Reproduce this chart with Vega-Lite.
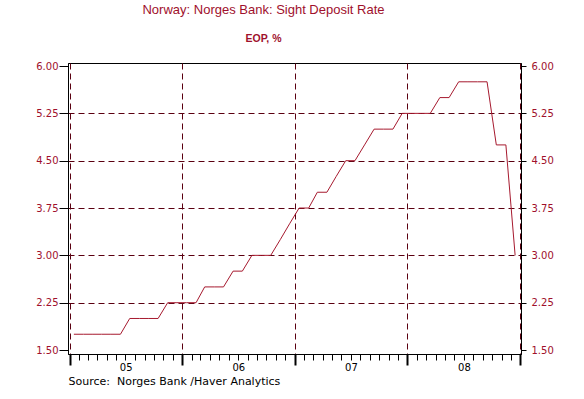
{
  "$schema": "https://vega.github.io/schema/vega-lite/v6.json",
  "width": 453,
  "height": 291,
  "autosize": {"type": "none"},
  "padding": {"left": 68, "top": 63, "right": 63, "bottom": 45},
  "background": "white",
  "title": {
    "text": "Norway: Norges Bank: Sight Deposit Rate",
    "subtitle": "EOP, %",
    "frame": "group",
    "anchor": "middle",
    "dx": -31,
    "font": "Liberation Sans",
    "fontSize": 13,
    "fontWeight": "normal",
    "color": "#a0102c",
    "subtitleFont": "Liberation Sans",
    "subtitleFontSize": 10.5,
    "subtitleFontWeight": "bold",
    "subtitleColor": "#a0102c",
    "subtitlePadding": 17,
    "offset": 17
  },
  "data": {
    "values": [
      {"date": "2005-01-15", "rate": 1.75},
      {"date": "2005-02-15", "rate": 1.75},
      {"date": "2005-03-15", "rate": 1.75},
      {"date": "2005-04-15", "rate": 1.75},
      {"date": "2005-05-15", "rate": 1.75},
      {"date": "2005-06-15", "rate": 1.75},
      {"date": "2005-07-15", "rate": 2.0},
      {"date": "2005-08-15", "rate": 2.0},
      {"date": "2005-09-15", "rate": 2.0},
      {"date": "2005-10-15", "rate": 2.0},
      {"date": "2005-11-15", "rate": 2.25},
      {"date": "2005-12-15", "rate": 2.25},
      {"date": "2006-01-15", "rate": 2.25},
      {"date": "2006-02-15", "rate": 2.25},
      {"date": "2006-03-15", "rate": 2.5},
      {"date": "2006-04-15", "rate": 2.5},
      {"date": "2006-05-15", "rate": 2.5},
      {"date": "2006-06-15", "rate": 2.75},
      {"date": "2006-07-15", "rate": 2.75},
      {"date": "2006-08-15", "rate": 3.0},
      {"date": "2006-09-15", "rate": 3.0},
      {"date": "2006-10-15", "rate": 3.0},
      {"date": "2006-11-15", "rate": 3.25},
      {"date": "2006-12-15", "rate": 3.5},
      {"date": "2007-01-15", "rate": 3.75},
      {"date": "2007-02-15", "rate": 3.75},
      {"date": "2007-03-15", "rate": 4.0},
      {"date": "2007-04-15", "rate": 4.0},
      {"date": "2007-05-15", "rate": 4.25},
      {"date": "2007-06-15", "rate": 4.5},
      {"date": "2007-07-15", "rate": 4.5},
      {"date": "2007-08-15", "rate": 4.75},
      {"date": "2007-09-15", "rate": 5.0},
      {"date": "2007-10-15", "rate": 5.0},
      {"date": "2007-11-15", "rate": 5.0},
      {"date": "2007-12-15", "rate": 5.25},
      {"date": "2008-01-15", "rate": 5.25},
      {"date": "2008-02-15", "rate": 5.25},
      {"date": "2008-03-15", "rate": 5.25},
      {"date": "2008-04-15", "rate": 5.5},
      {"date": "2008-05-15", "rate": 5.5},
      {"date": "2008-06-15", "rate": 5.75},
      {"date": "2008-07-15", "rate": 5.75},
      {"date": "2008-08-15", "rate": 5.75},
      {"date": "2008-09-15", "rate": 5.75},
      {"date": "2008-10-15", "rate": 4.75},
      {"date": "2008-11-15", "rate": 4.75},
      {"date": "2008-12-15", "rate": 3.0}
    ]
  },
  "layer": [
    {
      "mark": {"type": "line", "color": "#a6192e", "strokeWidth": 1, "opacity": 0},
      "encoding": {
        "x": {
          "field": "date", "type": "temporal",
          "scale": {"type": "utc", "domain": [{"year": 2004, "month": 12, "date": 27, "utc": true}, {"year": 2009, "month": 1, "date": 3, "utc": true}]},
          "axis": {
            "orient": "bottom",
            "tickCount": {"interval": "year", "step": 1},
            "labels": false, "domain": false,
            "ticks": true, "tickSize": 11, "tickWidth": 2, "tickColor": "black",
            "grid": true, "gridDash": [6, 4], "gridColor": "#5a0010", "gridWidth": 1,
            "title": null
          }
        },
        "y": {
          "field": "rate", "type": "quantitative",
          "scale": {"domain": [1.437, 6.048], "nice": false, "zero": false},
          "axis": {
            "orient": "left",
            "values": [2.25, 3.0, 3.75, 4.5, 5.25],
            "labels": false, "ticks": false, "domain": false,
            "grid": true, "gridDash": [6, 4], "gridColor": "#5a0010", "gridWidth": 1,
            "title": null
          }
        }
      }
    },
    {
      "mark": {"type": "line", "color": "#a6192e", "strokeWidth": 1, "opacity": 0},
      "encoding": {
        "x": {
          "field": "date", "type": "temporal",
          "axis": {
            "orient": "bottom",
            "values": [{"year": 2005, "month": 7, "date": 2, "utc": true}, {"year": 2006, "month": 7, "date": 2, "utc": true}, {"year": 2007, "month": 7, "date": 2, "utc": true}, {"year": 2008, "month": 7, "date": 2, "utc": true}],
            "labelExpr": "utcFormat(datum.value, '%y')",
            "ticks": false, "domain": false, "grid": false,
            "labelPadding": 8, "labelFont": "DejaVu Sans", "labelFontSize": 10, "labelColor": "black",
            "title": "Source:\u00a0\u00a0Norges Bank /Haver Analytics",
            "titleAnchor": "start", "titleAlign": "left",
            "titleFont": "DejaVu Sans", "titleFontSize": 11, "titleFontWeight": "normal", "titleColor": "black",
            "titlePadding": 3
          }
        },
        "y": {
          "field": "rate", "type": "quantitative",
          "axis": {
            "orient": "right",
            "values": [1.5, 2.25, 3.0, 3.75, 4.5, 5.25, 6.0],
            "format": ".2f",
            "grid": false, "domain": true, "domainColor": "black",
            "tickSize": 5, "tickColor": "black", "labelPadding": 5,
            "labelFont": "DejaVu Sans", "labelFontSize": 10, "labelColor": "#a0102c",
            "title": null
          }
        }
      }
    },
    {
      "mark": {"type": "line", "color": "#a6192e", "strokeWidth": 1},
      "encoding": {
        "x": {
          "field": "date", "type": "temporal",
          "axis": {
            "orient": "bottom",
            "tickCount": {"interval": "month", "step": 1},
            "labels": false, "grid": false,
            "domain": true, "domainColor": "black",
            "tickSize": 6, "tickColor": "black", "tickWidth": 1,
            "title": null
          }
        },
        "y": {
          "field": "rate", "type": "quantitative",
          "axis": {
            "orient": "left",
            "values": [1.5, 2.25, 3.0, 3.75, 4.5, 5.25, 6.0],
            "format": ".2f",
            "grid": false, "domain": true, "domainColor": "black",
            "tickSize": 9, "tickColor": "black", "labelPadding": 1,
            "labelFont": "DejaVu Sans", "labelFontSize": 10, "labelColor": "#a0102c",
            "title": null
          }
        }
      }
    }
  ],
  "resolve": {"axis": {"x": "independent", "y": "independent"}},
  "config": {
    "view": {"stroke": "black", "strokeWidth": 1}
  }
}
